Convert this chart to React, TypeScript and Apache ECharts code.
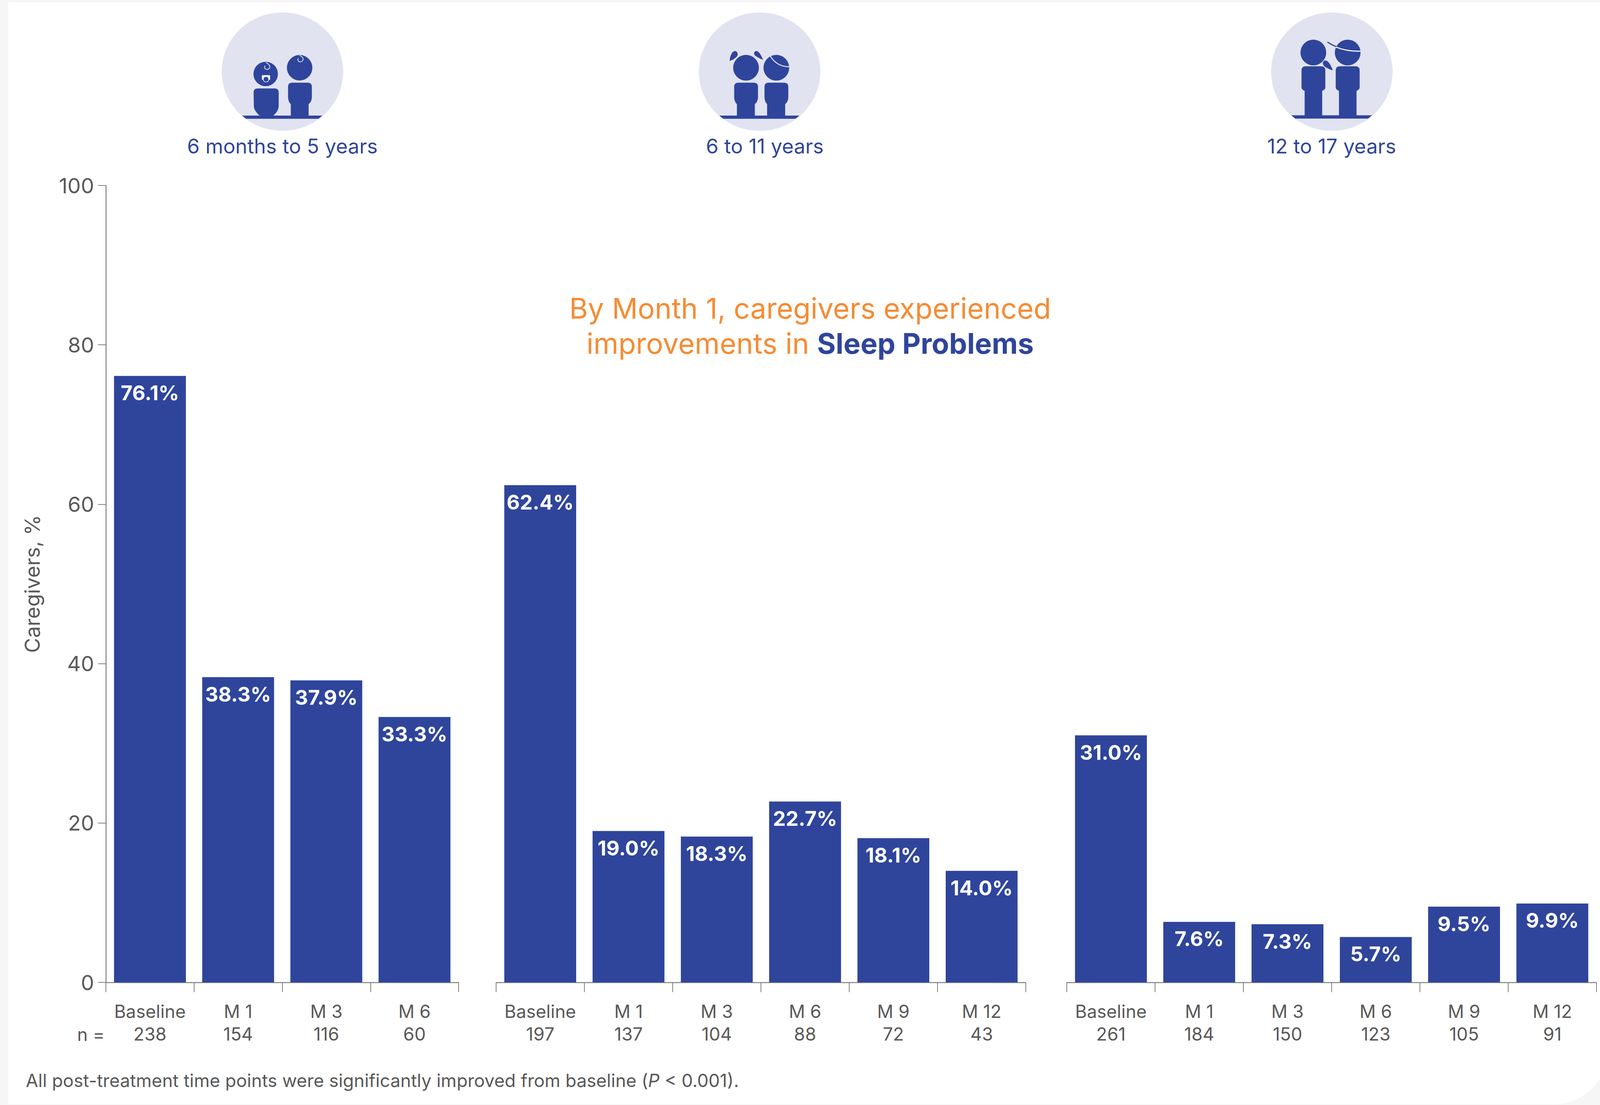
import React, { useEffect, useRef } from "react";
import * as echarts from "echarts";

const groupLabels = ["6 months to 5 years", "6 to 11 years", "12 to 17 years"];
const catsA = ["Baseline", "M 1", "M 3", "M 6"];
const catsB = ["Baseline", "M 1", "M 3", "M 6", "M 9", "M 12"];
const catsC = ["Baseline", "M 1", "M 3", "M 6", "M 9", "M 12"];
const valuesA = [76.1, 38.3, 37.9, 33.3];
const valuesB = [62.4, 19.0, 18.3, 22.7, 18.1, 14.0];
const valuesC = [31.0, 7.6, 7.3, 5.7, 9.5, 9.9];
const nA = [238, 154, 116, 60];
const nB = [197, 137, 104, 88, 72, 43];
const nC = [261, 184, 150, 123, 105, 91];

const BLUE = "#2F459C";
const PALE = "#E1E3F1";
const GRAY = "#595959";
const LINE = "#808080";
const ORANGE = "#F68B33";
const FONT = "Inter";

const W = 4115;
const H = 2830;
const AXIS_TOP = 475;
const AXIS_BOTTOM = 2516;

const circle = (cx: number, cy: number, r: number) =>
  `M${cx - r} ${cy}A${r} ${r} 0 1 1 ${cx + r} ${cy}A${r} ${r} 0 1 1 ${cx - r} ${cy}Z `;

const body = (xl: number, xr: number, top: number, side: number, legL: number, legR: number, hip: number, foot: number) =>
  `M${xl + 32} ${top}L${xr - 32} ${top}Q${xr} ${top} ${xr} ${top + 32}L${xr} ${side}` +
  `C${xr} ${side + (hip - side) * 0.5} ${legR + (xr - legR) * 0.5} ${hip - 8} ${legR} ${hip}L${legR} ${foot}L${legL} ${foot}L${legL} ${hip}` +
  `C${legL - (legL - xl) * 0.5} ${hip - 8} ${xl} ${side + (hip - side) * 0.5} ${xl} ${side}L${xl} ${top + 32}Q${xl} ${top} ${xl + 32} ${top}Z `;

const floor = (a: number, b: number, c: number, d: number, y0: number, y1: number) =>
  `M${a} ${y0}L${b} ${y0}L${c} ${y1}L${d} ${y1}Z `;

const iconFill1 =
  floor(360, 976, 947, 390, 889, 914) +
  circle(541, 569, 94) +
  circle(802, 521, 98) +
  `M480 680L610 680Q641 680 641 712L641 815C641 845 620 870 600 889L494 889C470 865 450 845 450 815L448 712Q448 680 480 680Z ` +
  body(713, 896, 636, 745, 734, 871, 800, 889);
const iconStroke1 =
  "M542 480C560 490 578 505 572 520C566 536 542 540 534 524C531 517 532 512 536 506 " +
  "M801 425C815 432 832 445 828 460C822 478 798 482 790 466C787 458 788 453 792 448";
const iconFill2 =
  floor(305, 920, 890, 335, 889, 914) +
  circle(510, 521, 99) +
  circle(743, 521, 99) +
  body(419, 602, 636, 745, 440, 578, 800, 889) +
  body(652, 835, 636, 745, 672, 811, 800, 889) +
  "M385 467C385 440 400 393 425 393C445 393 452 420 440 435C425 452 395 468 385 467Z " +
  "M641 458C625 420 605 392 590 392C570 395 565 420 585 432C605 445 635 460 641 458Z";
const iconHair2 = "M697 432Q750 515 843 513";
const iconFill3 =
  floor(318, 938, 908, 348, 887, 912) +
  circle(487, 404, 99) +
  circle(751, 404, 99) +
  body(396, 579, 510, 672, 420, 555, 700, 889) +
  body(659, 843, 510, 672, 684, 819, 700, 889) +
  "M636 539C625 505 600 465 580 465C560 468 552 490 570 508C585 522 630 542 636 539Z";
const iconBill3 = "M598 325Q630 346 665 360";
const iconBand3 = "M660 362Q750 398 850 393";

const reg = (name: string, d: string) =>
  echarts.graphic.registerShape(name, echarts.graphic.extendPath(d, {}));
reg("iconFill1", iconFill1);
reg("iconStroke1", iconStroke1);
reg("iconFill2", iconFill2);
reg("iconHair2", iconHair2);
reg("iconFill3", iconFill3);
reg("iconBill3", iconBill3);
reg("iconBand3", iconBand3);

const at = (x: number) => ({ x, y: 0, scaleX: 1 / 3, scaleY: 1 / 3 });

export default function App() {
  const ref = useRef<HTMLDivElement>(null);
  useEffect(() => {
    document.documentElement.style.overflow = "hidden";
    document.body.style.margin = "0";
    const chart = echarts.init(ref.current!, undefined, { renderer: "svg" });
    const panels = [
      { cats: catsA, vals: valuesA, ns: nA, left: 271, width: 903 },
      { cats: catsB, vals: valuesB, ns: nB, left: 1270, width: 1356 },
      { cats: catsC, vals: valuesC, ns: nC, left: 2731, width: 1356 },
    ];
    const centers = [723, 1958, 3409];
    const discs = [723, 1944.5, 3409.5];
    const option: any = {
      animation: false,
      backgroundColor: "#F6F6F6",
      textStyle: { fontFamily: FONT },
      grid: panels.map((p) => ({
        left: p.left,
        width: p.width,
        top: AXIS_TOP,
        height: AXIS_BOTTOM - AXIS_TOP,
        containLabel: false,
      })),
      xAxis: panels.map((p, i) => ({
        type: "category",
        gridIndex: i,
        data: p.cats,
        axisLine: { show: true, lineStyle: { color: LINE, width: 2.5 } },
        axisTick: { show: true, alignWithLabel: false, length: 25, lineStyle: { color: LINE, width: 2 } },
        axisLabel: {
          interval: 0,
          margin: 45,
          fontFamily: FONT,
          fontSize: 46,
          lineHeight: 58,
          color: GRAY,
          formatter: (v: string, idx: number) => `${v}\n${p.ns[idx]}`,
        },
      })),
      yAxis: panels.map((_, i) => ({
        type: "value",
        gridIndex: i,
        min: 0,
        max: 100,
        interval: 20,
        show: i === 0,
        splitLine: { show: false },
        name: i === 0 ? "Caregivers, %" : "",
        nameLocation: "middle",
        nameGap: 162,
        nameRotate: 90,
        nameTextStyle: { fontFamily: FONT, fontSize: 53, color: GRAY },
        axisLine: { show: true, lineStyle: { color: LINE, width: 2.5 } },
        axisTick: { show: true, length: 20, lineStyle: { color: LINE, width: 2 } },
        axisLabel: { margin: 30, fontFamily: FONT, fontSize: 54, color: GRAY },
      })),
      series: panels.map((p, i) => ({
        type: "bar",
        xAxisIndex: i,
        yAxisIndex: i,
        data: p.vals,
        barWidth: 184,
        itemStyle: { color: BLUE },
        label: {
          show: true,
          position: "insideTop",
          distance: 18,
          fontFamily: FONT,
          fontSize: 52,
          fontWeight: "bold",
          color: "#FFFFFF",
          formatter: (d: any) => `${Number(d.value).toFixed(1)}%`,
        },
      })),
      graphic: {
        elements: [
          {
            type: "rect",
            z: -100,
            silent: true,
            shape: { x: 21, y: 6, width: W - 21, height: H - 8, r: [0, 0, 135, 0] },
            style: { fill: "#FFFFFF" },
          },
          ...discs.map((cx) => ({
            type: "ellipse",
            z: 1,
            shape: { cx, cy: 183.5, rx: 155.5, ry: 151.5 },
            style: { fill: PALE },
          })),
          { type: "iconFill1", z: 2, ...at(500), style: { fill: BLUE } },
          { type: "iconStroke1", z: 3, ...at(500), style: { fill: "none", stroke: "#F4F5FA", lineWidth: 5 } },
          {
            type: "rect",
            z: 3,
            shape: { x: 670.5, y: 192.5, width: 21, height: 12, r: 2 },
            style: { fill: "#FFFFFF" },
          },
          {
            type: "circle",
            z: 4,
            shape: { cx: 681, cy: 203, r: 7 },
            style: { fill: BLUE, stroke: "#FFFFFF", lineWidth: 1.5 },
          },
          { type: "iconFill2", z: 2, ...at(1740), style: { fill: BLUE } },
          { type: "iconHair2", z: 3, ...at(1740), style: { fill: "none", stroke: PALE, lineWidth: 8 } },
          { type: "iconFill3", z: 2, ...at(3200), style: { fill: BLUE } },
          { type: "iconBill3", z: 2, ...at(3200), style: { fill: "none", stroke: BLUE, lineWidth: 9, lineCap: "round" } },
          { type: "iconBand3", z: 3, ...at(3200), style: { fill: "none", stroke: "#FFFFFF", lineWidth: 8 } },
          ...groupLabels.map((text, i) => ({
            type: "text",
            z: 5,
            x: centers[i],
            y: 374,
            style: { text, fill: BLUE, fontFamily: FONT, fontSize: 52, align: "center", verticalAlign: "middle" },
          })),
          {
            type: "text",
            z: 5,
            x: 2074,
            y: 789,
            style: {
              text: "By Month 1, caregivers experienced",
              fill: ORANGE,
              fontFamily: FONT,
              fontSize: 73,
              align: "center",
              verticalAlign: "middle",
            },
          },
          {
            type: "text",
            z: 5,
            x: 2074,
            y: 879,
            style: {
              text: "{a|improvements in }{b|Sleep Problems}",
              fontFamily: FONT,
              fontSize: 73,
              align: "center",
              verticalAlign: "middle",
              rich: {
                a: { fill: ORANGE, fontFamily: FONT, fontSize: 73 },
                b: { fill: BLUE, fontFamily: FONT, fontSize: 73, fontWeight: "bold" },
              },
            },
          },
          {
            type: "text",
            z: 5,
            x: 268,
            y: 2649,
            style: { text: "n =", fill: GRAY, fontFamily: FONT, fontSize: 46, align: "right", verticalAlign: "middle" },
          },
          {
            type: "text",
            z: 5,
            x: 66,
            y: 2767,
            style: {
              text: "{a|All post-treatment time points were significantly improved from baseline (}{i|P}{a| < 0.001).}",
              fontFamily: FONT,
              fontSize: 46,
              align: "left",
              verticalAlign: "middle",
              rich: {
                a: { fill: GRAY, fontFamily: FONT, fontSize: 46 },
                i: { fill: GRAY, fontFamily: FONT, fontSize: 46, fontStyle: "italic" },
              },
            },
          },
        ],
      },
    };
    chart.setOption(option);
    return () => chart.dispose();
  }, []);
  return (
    <div
      ref={ref}
      style={{ position: "absolute", left: 0, top: 0, width: W, height: H }}
    />
  );
}
